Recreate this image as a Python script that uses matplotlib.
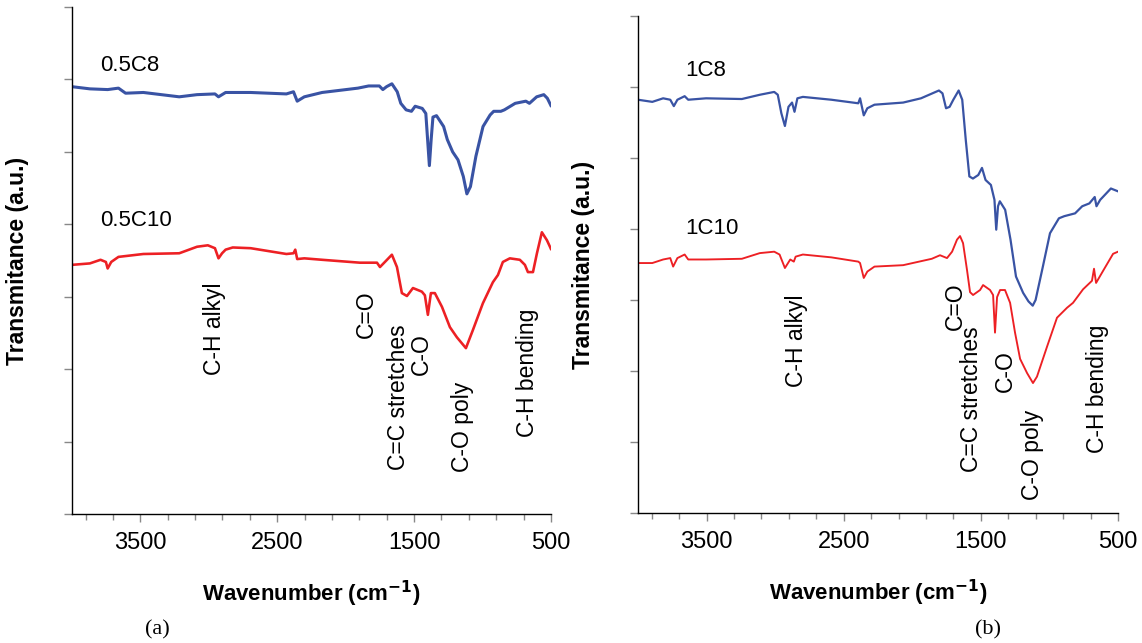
import matplotlib
matplotlib.use('Agg')
import matplotlib.pyplot as plt
from matplotlib.ticker import MultipleLocator, FixedLocator

plt.rcParams['font.family'] = ['Liberation Sans', 'DejaVu Sans']

# panel (a) 0.5C8 / 0.5C10
wn_a_c8 = [4000, 3869, 3739, 3660, 3608, 3478, 3216, 3086, 2955, 2929, 2877, 2694,
           2433, 2381, 2354, 2302, 2172, 1910, 1832, 1754, 1728, 1701, 1662, 1623,
           1597, 1558, 1519, 1492, 1440, 1414, 1401, 1388, 1375, 1362, 1336, 1284,
           1257, 1218, 1179, 1140, 1114, 1088, 1048, 996, 944, 918, 866, 840, 761,
           683, 657, 604, 552, 526, 500]
t_a_c8 = [5.90, 5.87, 5.86, 5.88, 5.81, 5.82, 5.76, 5.79, 5.80, 5.76, 5.82, 5.82,
          5.80, 5.83, 5.70, 5.76, 5.82, 5.88, 5.91, 5.91, 5.86, 5.90, 5.94, 5.83,
          5.67, 5.58, 5.56, 5.63, 5.60, 5.53, 5.17, 4.81, 5.17, 5.48, 5.50, 5.35,
          5.17, 5.00, 4.89, 4.66, 4.42, 4.52, 4.94, 5.35, 5.51, 5.56, 5.56, 5.58, 5.67,
          5.70, 5.67, 5.76, 5.79, 5.74, 5.64]

wn_a_c10 = [4000, 3869, 3791, 3752, 3739, 3713, 3660, 3478, 3216, 3086, 3007, 2955,
            2929, 2903, 2877, 2825, 2694, 2433, 2381, 2368, 2354, 2302, 2172, 1896,
            1771, 1749, 1713, 1662, 1625, 1589, 1552, 1508, 1443, 1421, 1399, 1377,
            1348, 1296, 1238, 1187, 1121, 1070, 997, 924, 887, 851, 800, 727, 690,
            668, 631, 602, 566, 529, 507, 500]
t_a_c10 = [3.44, 3.46, 3.51, 3.48, 3.39, 3.48, 3.55, 3.59, 3.60, 3.69, 3.71, 3.67,
           3.53, 3.60, 3.65, 3.68, 3.67, 3.59, 3.60, 3.65, 3.52, 3.53, 3.51, 3.47,
           3.47, 3.41, 3.48, 3.58, 3.41, 3.05, 3.01, 3.12, 3.07, 3.02, 2.75, 3.05,
           3.05, 2.86, 2.58, 2.44, 2.29, 2.54, 2.91, 3.20, 3.30, 3.48, 3.53, 3.51, 3.44,
           3.34, 3.34, 3.60, 3.89, 3.78, 3.69, 3.66]

# panel (b) 1C8 / 1C10
wn_b_c8 = [4000, 3896, 3817, 3765, 3739, 3713, 3660, 3634, 3504, 3243, 3112, 3007,
           2981, 2955, 2929, 2903, 2877, 2859, 2838, 2798, 2590, 2394, 2381, 2354,
           2328, 2276, 2067, 1937, 1806, 1780, 1754, 1728, 1701, 1662, 1636, 1610,
           1584, 1558, 1519, 1492, 1466, 1427, 1401, 1388, 1375, 1362, 1323, 1284,
           1244, 1192, 1153, 1122, 1101, 1048, 996, 931, 892, 813, 761, 709, 670,
           657, 630, 552, 500]
t_b_c8 = [5.82, 5.79, 5.84, 5.82, 5.73, 5.82, 5.87, 5.82, 5.84, 5.83, 5.89, 5.93,
          5.89, 5.63, 5.45, 5.72, 5.78, 5.65, 5.84, 5.86, 5.82, 5.77, 5.84, 5.60,
          5.70, 5.75, 5.78, 5.84, 5.95, 5.91, 5.70, 5.72, 5.82, 5.95, 5.82, 5.25,
          4.74, 4.71, 4.76, 4.86, 4.69, 4.62, 4.41, 3.99, 4.32, 4.39, 4.27, 3.85,
          3.33, 3.10, 2.98, 2.92, 3.00, 3.47, 3.94, 4.15, 4.18, 4.22, 4.32, 4.36, 4.45,
          4.32, 4.41, 4.57, 4.53]

wn_b_c10 = [4000, 3896, 3817, 3765, 3744, 3713, 3660, 3634, 3504, 3243, 3112, 3007,
            2968, 2929, 2890, 2864, 2851, 2798, 2590, 2394, 2381, 2354, 2328, 2276,
            2067, 1858, 1798, 1747, 1710, 1674, 1652, 1630, 1601, 1579, 1557, 1506,
            1484, 1433, 1411, 1397, 1382, 1360, 1324, 1287, 1251, 1214, 1163, 1120,
            1091, 1018, 945, 872, 828, 755, 690, 675, 660, 609, 536, 500]
t_b_c10 = [3.52, 3.52, 3.57, 3.59, 3.47, 3.59, 3.64, 3.57, 3.57, 3.58, 3.66, 3.68,
           3.64, 3.45, 3.57, 3.54, 3.61, 3.64, 3.60, 3.54, 3.52, 3.31, 3.40, 3.47,
           3.49, 3.58, 3.63, 3.59, 3.68, 3.85, 3.90, 3.80, 3.42, 3.11, 3.07, 3.14,
           3.21, 3.14, 3.07, 2.54, 3.04, 3.14, 3.14, 2.96, 2.54, 2.17, 1.97, 1.83,
           1.92, 2.34, 2.75, 2.89, 2.96, 3.15, 3.27, 3.44, 3.24, 3.41, 3.65, 3.68]

labels_a = ['0.5C8', '0.5C10']
labels_b = ['1C8', '1C10']
bands = ['C-H alkyl', 'C=O', 'C=C stretches', 'C-O', 'C-O poly', 'C-H bending']
band_pos_a = [(2955, 1.92), (1845, 2.43), (1611, 0.61), (1443, 1.92), (1143, 0.58), (668, 1.06)]
band_pos_b = [(2848, 1.77), (1689, 2.58), (1572, 0.58), (1324, 1.70), (1120, 0.18), (653, 0.85)]

BLUE = '#3953a4'
RED = '#ed2024'


def draw_panel(ax, blue, red, names, name_pos, band_pos, lw):
    ax.plot(blue[0], blue[1], color=BLUE, lw=lw)
    ax.plot(red[0], red[1], color=RED, lw=lw * 0.85)
    ax.set_xlim(4000, 500)
    ax.set_ylim(0, 7)
    for sp in ['top', 'right']:
        ax.spines[sp].set_visible(False)
    for sp in ['left', 'bottom']:
        ax.spines[sp].set_linewidth(1.0)
    ax.xaxis.set_major_locator(FixedLocator([3500, 2500, 1500, 500]))
    ax.xaxis.set_minor_locator(MultipleLocator(200, offset=100))
    ax.yaxis.set_major_locator(MultipleLocator(1))
    ax.set_yticklabels([])
    ax.tick_params(axis='x', which='major', length=6, width=1, color='#888888',
                   labelsize=17, pad=7)
    ax.tick_params(axis='x', which='minor', length=4, width=1, color='#888888')
    ax.tick_params(axis='y', length=6, width=1, color='#888888')
    ax.set_xlabel('Wavenumber (cm$^{\\mathbf{-1}}$)', fontsize=16, fontweight='bold',
                  labelpad=18)
    ax.set_ylabel('Transmitance (a.u.)', fontsize=16.5, fontweight='bold')
    x0, ys = name_pos
    ax.text(x0, ys[0], names[0], fontsize=16, va='center')
    ax.text(x0, ys[1], names[1], fontsize=16, va='center')
    for txt, (x, y) in zip(bands, band_pos):
        ax.text(x, y, txt, rotation=90, fontsize=16.5, ha='center', va='bottom')


fig = plt.figure(figsize=(11.42, 6.43), dpi=100)
ax1 = fig.add_axes([0.063, 0.2006, 0.4194, 0.7885])
ax2 = fig.add_axes([0.5587, 0.2022, 0.4203, 0.773])

draw_panel(ax1, (wn_a_c8, t_a_c8), (wn_a_c10, t_a_c10), labels_a,
           (3795, (6.19, 4.05)), band_pos_a, 2.2)
draw_panel(ax2, (wn_b_c8, t_b_c8), (wn_b_c10, t_b_c10), labels_b,
           (3657, (6.23, 4.0)), band_pos_b, 1.6)

ax1.yaxis.set_label_coords(-0.09, 0.5)
ax2.yaxis.set_label_coords(-0.09, 0.5)

fig.text(157 / 1142, 1 - 630 / 643, '(a)', fontsize=16, family='Liberation Serif',
         ha='center', va='center')
fig.text(988 / 1142, 1 - 630 / 643, '(b)', fontsize=16, family='Liberation Serif',
         ha='center', va='center')

fig.savefig('out.png', dpi=100)
